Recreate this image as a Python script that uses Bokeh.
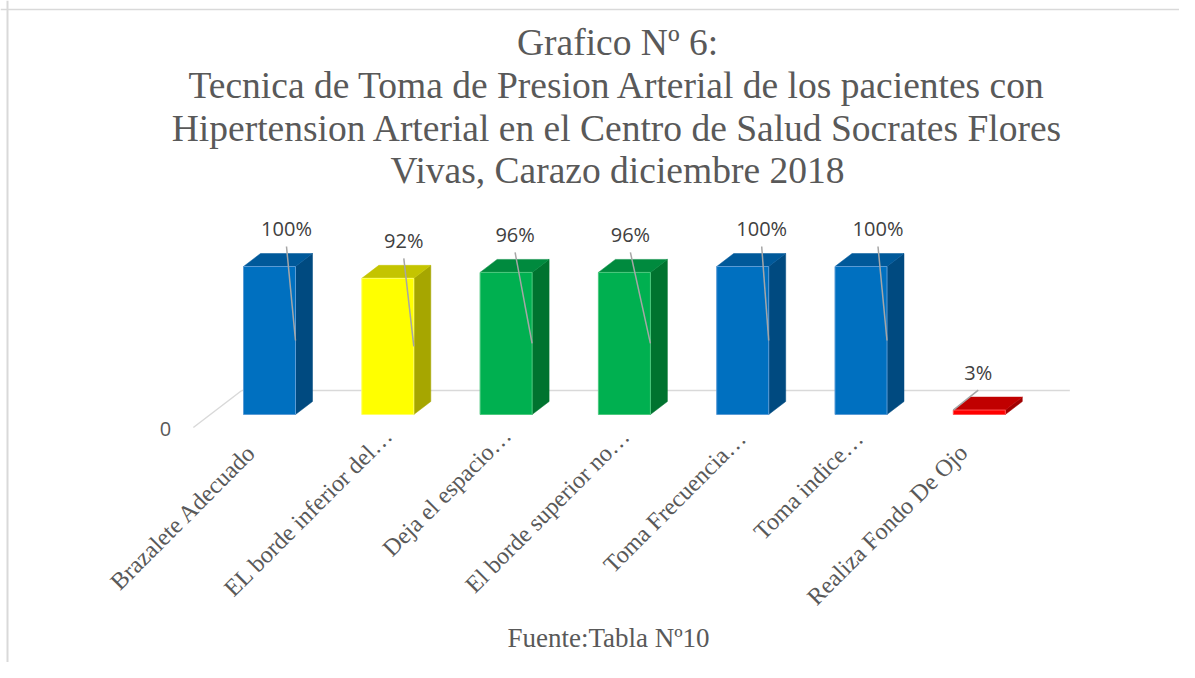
import math
from bokeh.plotting import figure
from bokeh.models import Label, Span, ColumnDataSource, Range1d
from bokeh.embed import file_html
from bokeh.resources import INLINE
from bokeh.core.properties import value

# ---------------- data ----------------
categories = [
    "Brazalete Adecuado",
    "EL borde inferior del…",
    "Deja el espacio…",
    "El borde superior no…",
    "Toma Frecuencia…",
    "Toma indice…",
    "Realiza Fondo De Ojo",
]
percentages = [100, 92, 96, 96, 100, 100, 3]
value_labels = ["100%", "92%", "96%", "96%", "100%", "100%", "3%"]
value_axis_label = "0"
title_lines = [
    "Grafico Nº 6:",
    "Tecnica de Toma de Presion Arterial de los pacientes con",
    "Hipertension Arterial en el Centro de Salud Socrates Flores",
    "Vivas, Carazo diciembre 2018",
]
source_note = "Fuente:Tabla Nº10"

# ---------------- styling ----------------
bar_front = ["#0070C0", "#FFFF00", "#00B050", "#00B050", "#0070C0", "#0070C0", "#FF0000"]
bar_edge = ["#5A9BD5", "#FFFF66", "#4CC97E", "#4CC97E", "#5A9BD5", "#5A9BD5", "#FF5050"]
bar_top = ["#00599A", "#C4C400", "#008A3E", "#008A3E", "#00599A", "#00599A", "#C00000"]
bar_side = ["#004A80", "#A6A600", "#00732F", "#00732F", "#004A80", "#004A80", "#A00000"]
value_label_dx = [17, 16, 9, 6, 19, 17, -1]           # px nudge of data labels
cat_label_dx = [-18, 1, 1, 1, -1, -2, -16]              # px nudge of category labels
cat_label_dy = [34, 17, 17, 18, 20, 20, 34]

W, H = 1179, 662
OFF = 0             # page offset of the canvas
SX = 118.3          # px per category
SY = 1.48           # px per percent
X0, Y0 = 269 - OFF, 414 - OFF   # canvas px of first category / zero value
x_start = -X0 / SX
x_end = x_start + W / SX
y_end = Y0 / SY
y_start = y_end - H / SY

DX, DY = 17 / SX, 13 / SY     # 3D depth
HW = 26 / SX                  # half bar width
WALL = 24 / 13                # back wall depth (in depth units)


def page(xp, yp):
    return x_start + (xp - OFF) / SX, y_end - (yp - OFF) / SY


p = figure(width=W, height=H, x_range=Range1d(x_start, x_end), y_range=Range1d(y_start, y_end),
           output_backend="svg", toolbar_location=None, min_border=0,
           x_axis_location=None, y_axis_location=None)
p.grid.grid_line_color = None
p.outline_line_color = None
p.background_fill_color = "white"
p.border_fill_color = "white"

n = len(categories)
idx = list(range(n))

# floor and back-wall base line
p.line([-0.5 - DX, -0.5 + WALL * DX], [-DY, WALL * DY], line_color="#D9D9D9", line_width=1.5)
p.line([-0.5 + WALL * DX, n - 0.5 + WALL * DX], [WALL * DY, WALL * DY], line_color="#D9D9D9", line_width=1.5)

# 3D bars
front = ColumnDataSource(dict(l=[i - HW for i in idx], r=[i + HW for i in idx],
                              t=percentages, b=[0] * n, c=bar_front, e=bar_edge))
tops = ColumnDataSource(dict(
    xs=[[i - HW, i - HW + DX, i + HW + DX, i + HW] for i in idx],
    ys=[[v, v + DY, v + DY, v] for v in percentages], c=bar_top))
sides = ColumnDataSource(dict(
    xs=[[i + HW, i + HW + DX, i + HW + DX, i + HW] for i in idx],
    ys=[[0, DY, v + DY, v] for v in percentages], c=bar_side))
p.patches("xs", "ys", source=sides, fill_color="c", line_color="c", line_width=0.5)
p.patches("xs", "ys", source=tops, fill_color="c", line_color="c", line_width=0.5)
p.quad(left="l", right="r", top="t", bottom="b", source=front, fill_color="c", line_color="e", line_width=1)

# leader lines
x0s = [i + dx / SX for i, dx in zip(idx, value_label_dx)]
y0s = [v + 20 / SY for v in percentages]
x1s = [i + HW if v >= 20 else i - HW for i, v in zip(idx, percentages)]
y1s = [v / 2 if v >= 20 else v for v in percentages]
p.segment(x0=x0s, y0=y0s, x1=x1s, y1=y1s, line_color="#A6A6A6", line_width=1.5)

# data labels
p.text(x=idx, y=percentages, text=value_labels, x_offset=value_label_dx, y_offset=-38,
       text_align="center", text_baseline="middle", text_font=value("Open Sans"),
       text_font_size="20px", text_color="#404040")

# value axis label at floor corner
p.text(x=[-0.5 - DX], y=[-DY], text=[value_axis_label], x_offset=-28, y_offset=1,
       text_align="center", text_baseline="middle", text_font=value("Open Sans"),
       text_font_size="20px", text_color="#595959")

# category labels
p.text(x=idx, y=[0] * n, text=categories, angle=math.pi / 4, x_offset=cat_label_dx, y_offset=cat_label_dy,
       text_align="right", text_baseline="alphabetic", text_font=value("Liberation Serif"),
       text_font_size="24px", text_color="#595959")

# title
for line, yp in zip(title_lines, [42, 85, 128, 170]):
    tx, ty = page(617, yp)
    p.add_layout(Label(x=tx, y=ty, text=line, text_align="center", text_baseline="middle",
                       text_font="Liberation Serif", text_font_size="37.5px", text_color="#595959"))

fx, fy = page(608, 637)
p.add_layout(Label(x=fx, y=fy, text=source_note, text_align="center", text_baseline="middle",
                   text_font="Liberation Serif", text_font_size="27px", text_color="#595959"))

# chart border (top and left)
bx, by = page(7, 9)
p.add_layout(Span(location=bx, dimension="height", line_color="#D9D9D9", line_width=2))
p.add_layout(Span(location=by, dimension="width", line_color="#D9D9D9", line_width=1.5))

open("out.html", "w").write(file_html(p, INLINE))
